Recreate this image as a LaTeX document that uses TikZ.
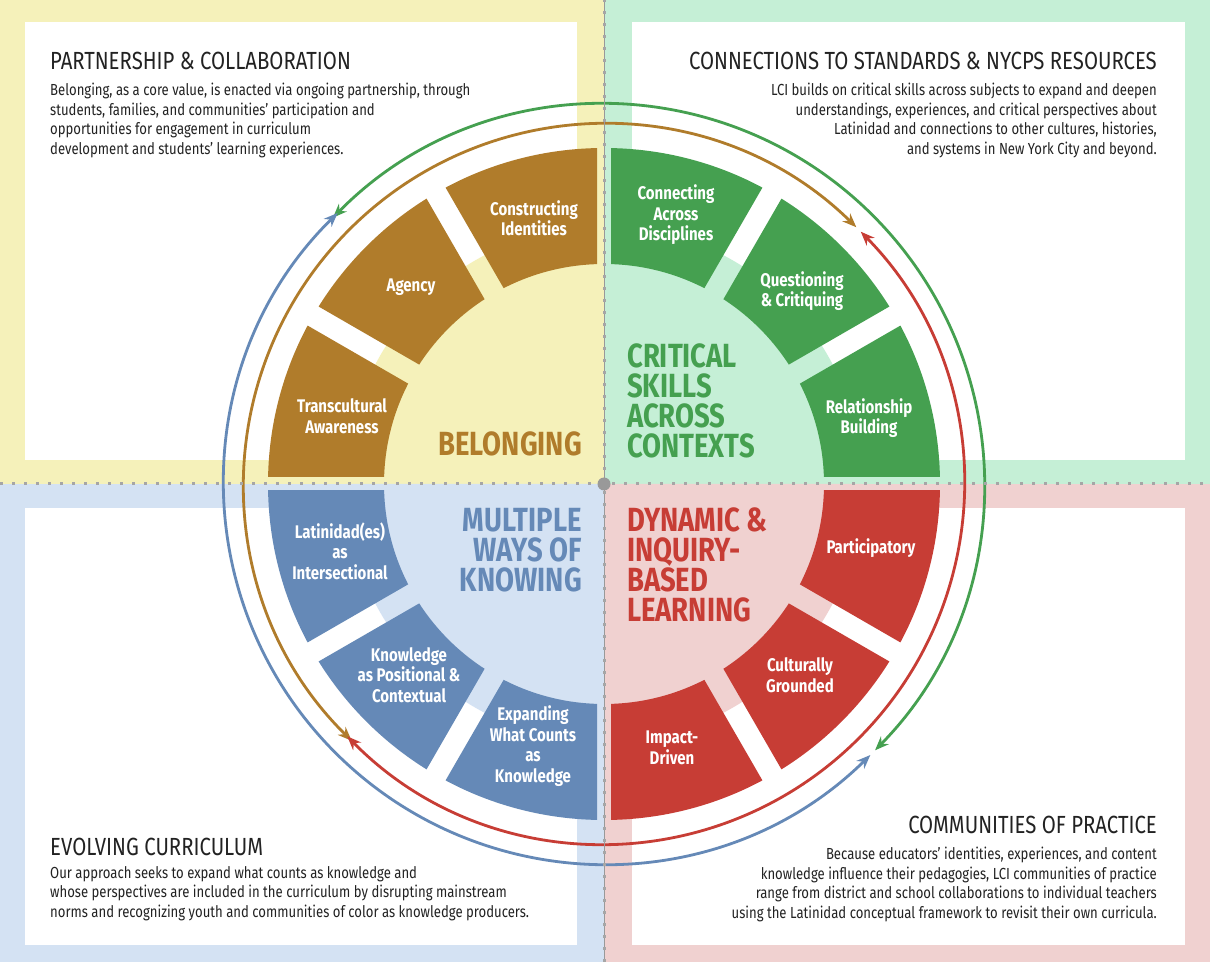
\documentclass[tikz,border=0pt]{standalone}
\usepackage{fontspec}
\setmainfont{Fira Sans}[FakeStretch=0.82]
\usetikzlibrary{arrows.meta}
\definecolor{cbr}{HTML}{B07C2B}
\definecolor{cgr}{HTML}{45A050}
\definecolor{cbl}{HTML}{6589B7}
\definecolor{crd}{HTML}{C73D35}
\definecolor{pye}{HTML}{F5F1BA}
\definecolor{pgr}{HTML}{C5EFD6}
\definecolor{pbl}{HTML}{D4E2F3}
\definecolor{prd}{HTML}{F0D1D0}
\definecolor{txt}{HTML}{222222}
\newcommand{\myseg}[5]{%
  \begin{scope}
  \clip[shift={(604,478)},rotate=#1] (-700,#3) rectangle (700,700);
  \clip[shift={(604,478)},rotate=#2] (-700,-700) rectangle (700,-#4);
  \fill[#5,even odd rule] (604,478) circle (336) (604,478) circle (220);
  \end{scope}}
\begin{document}
\begin{tikzpicture}[x=1pt,y=1pt,
  head/.style={font=\fontsize{24.8}{28}\selectfont, text=txt, inner sep=0},
  body/.style={font=\fontsize{16}{19.5}\selectfont, text=txt, inner sep=0},
  lab/.style={font=\bfseries\fontsize{18.3}{20.5}\selectfont, text=white, align=center, inner sep=0},
  big/.style={font=\bfseries\fontsize{33.5}{30}\selectfont, inner sep=0},
  arc/.style={line width=2.8pt, {Stealth[length=14pt,width=11pt]}-{Stealth[length=14pt,width=11pt]}}]
\useasboundingbox (0,0) rectangle (1210,962);
% bands
\fill[pye] (0,478) rectangle (604,962);
\fill[pgr] (604,478) rectangle (1210,962);
\fill[pbl] (0,0) rectangle (604,478);
\fill[prd] (604,0) rectangle (1210,478);
\fill[white] (25,502) rectangle (577,940);
\fill[white] (632,502) rectangle (1185,940);
\fill[white] (25,17) rectangle (577,454);
\fill[white] (632,17) rectangle (1185,454);
\coordinate (C) at (604,478);
% pale disks
\fill[pgr] (C) -- ++(0:258) arc[start angle=0,end angle=90,radius=258] -- cycle;
\fill[pye] (C) -- ++(90:258) arc[start angle=90,end angle=180,radius=258] -- cycle;
\fill[pbl] (C) -- ++(180:258) arc[start angle=180,end angle=270,radius=258] -- cycle;
\fill[prd] (C) -- ++(270:258) arc[start angle=270,end angle=360,radius=258] -- cycle;
% segments
\myseg{0}{30}{7}{11}{cgr}\myseg{30}{60}{11}{11}{cgr}\myseg{60}{90}{11}{7}{cgr}
\myseg{90}{120}{7}{11}{cbr}\myseg{120}{150}{11}{11}{cbr}\myseg{150}{180}{11}{7}{cbr}
\myseg{180}{210}{7}{11}{cbl}\myseg{210}{240}{11}{11}{cbl}\myseg{240}{270}{11}{7}{cbl}
\myseg{270}{300}{7}{11}{crd}\myseg{300}{330}{11}{11}{crd}\myseg{330}{360}{11}{7}{crd}
% arcs
\draw[arc,cgr] (C) ++(135.5:380) arc[start angle=135.5,end angle=-44.5,radius=380];
\draw[arc,cbl] (C) ++(134.5:380) arc[start angle=134.5,end angle=314.5,radius=380];
\draw[arc,cbr] (C) ++(45.5:360) arc[start angle=45.5,end angle=225.5,radius=360];
\draw[arc,crd] (C) ++(44.5:360) arc[start angle=44.5,end angle=-135.5,radius=360];
% dividers
\draw[gray!80, line width=1pt] (604,0) -- (604,962);
\draw[gray!70, line width=3pt, dash pattern=on 3pt off 9pt] (604,0) -- (604,962);
\draw[gray!70, line width=3pt, dash pattern=on 3pt off 9pt] (0,478) -- (1210,478);
\fill[gray!80] (C) circle (6.5);
% segment labels
\node[lab] (s1) at (534,744) {Constructing\\Identities};
\node[lab] (s2) at (411,675) {Agency};
\node[lab] (s3) at (342,546) {Transcultural\\Awareness};
\node[lab] (s4) at (676,747) {Connecting\\Across\\Disciplines};
\node[lab] (s5) at (802,671) {Questioning\\\& Critiquing};
\node[lab] (s6) at (869,544) {Relationship\\Building};
\node[lab] (s7) at (871,414) {Participatory};
\node[lab] (s8) at (800,287) {Culturally\\Grounded};
\node[lab] (s9) at (672,214) {Impact-\\Driven};
\node[lab] (s10) at (340,411) {Latinidad(es)\\as\\Intersectional};
\node[lab] (s11) at (409,287) {Knowledge\\as Positional \&\\Contextual};
\node[lab] (s12) at (533,216) {Expanding\\What Counts\\as\\Knowledge};
% big labels
\node[big,text=cbr,anchor=east] (b1) at (582,518) {BELONGING};
\node[big,text=cgr,anchor=west,align=left] (b2) at (627,561) {CRITICAL\\SKILLS\\ACROSS\\CONTEXTS};
\node[big,text=cbl,anchor=east,align=right] (b3) at (582,412) {MULTIPLE\\WAYS OF\\KNOWING};
\node[big,text=crd,anchor=west,align=left] (b4) at (627,397) {DYNAMIC \&\\INQUIRY-\\BASED\\LEARNING};
% corner texts
\node[head,anchor=west] (h1) at (50,901) {PARTNERSHIP \& COLLABORATION};
\node[body,anchor=north west,align=left] (t1) at (50,879) {Belonging, as a core value, is enacted via ongoing partnership, through\\students, families, and communities' participation and\\opportunities for engagement in curriculum\\development and students' learning experiences.};
\node[head,anchor=east] (h2) at (1157,901) {CONNECTIONS TO STANDARDS \& NYCPS RESOURCES};
\node[body,anchor=north east,align=right] (t2) at (1157,879) {LCI builds on critical skills across subjects to expand and deepen\\understandings, experiences, and critical perspectives about\\Latinidad and connections to other cultures, histories,\\and systems in New York City and beyond.};
\node[head,anchor=west] (h3) at (50,115) {EVOLVING CURRICULUM};
\node[body,anchor=north west,align=left] (t3) at (50,96) {Our approach seeks to expand what counts as knowledge and\\whose perspectives are included in the curriculum by disrupting mainstream\\norms and recognizing youth and communities of color as knowledge producers.};
\node[head,anchor=east] (h4) at (1157,137) {COMMUNITIES OF PRACTICE};
\node[body,anchor=north east,align=right] (t4) at (1157,115) {Because educators' identities, experiences, and content\\knowledge influence their pedagogies, LCI communities of practice\\range from district and school collaborations to individual teachers\\using the Latinidad conceptual framework to revisit their own curricula.};
\end{tikzpicture}
\end{document}
